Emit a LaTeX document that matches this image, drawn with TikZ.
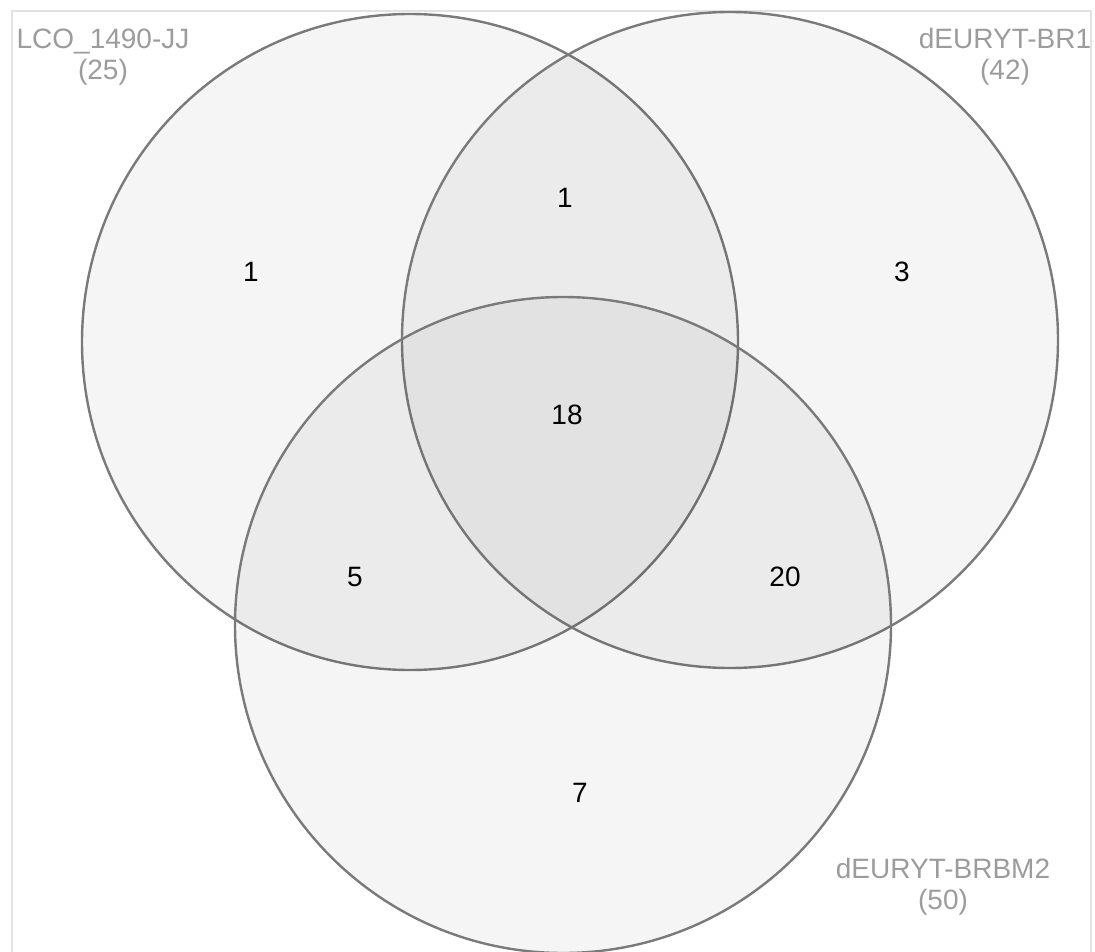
\documentclass[tikz,border=0pt]{standalone}
\usepackage{fontspec}
\setmainfont{Liberation Sans}
\usepackage{tikz}
\usetikzlibrary{positioning}
\definecolor{setedge}{HTML}{7A7A7A}
\definecolor{setfill}{HTML}{000000}
\definecolor{labelgray}{HTML}{9C9C9C}
\definecolor{framegray}{HTML}{E2E2E2}

\begin{document}
\begin{tikzpicture}[
  x=1pt, y=-1pt,
  setcircle/.style={circle, draw=setedge, line width=2.4pt, fill=setfill,
                    fill opacity=0.04, minimum size=656pt, inner sep=0pt},
  countlabel/.style={font=\fontsize{28}{32}\selectfont, text=black, inner sep=0pt},
  setlabel/.style={font=\fontsize{28}{31}\selectfont, text=labelgray, align=center,
                   inner sep=0pt}
]
\useasboundingbox (0,0) rectangle (1095,952);

% frame
\draw[framegray, line width=1.5pt] (12,960) -- (12,11) -- (1091,11) -- (1091,960);

% sets
\node[setcircle] (lco)   at (410,342) {};
\node[setcircle] (br1)   at (730,340) {};
\node[setcircle] (brbm2) at (563,625) {};

% set names
\node[setlabel] (lconame)   at (103,57)  {LCO\_1490-JJ\\(25)};
\node[setlabel] (br1name)   at (1005,57) {dEURYT-BR1\\(42)};
\node[setlabel] (brbm2name) at (943,887) {dEURYT-BRBM2\\(50)};

% counts
\node[countlabel] (onlylco)   at (251,272) {1};
\node[countlabel] (lcobr)     at (565,198) {1};
\node[countlabel] (onlybr1)   at (902,272) {3};
\node[countlabel] (allthree)  at (567,415) {18};
\node[countlabel] (lcobrbm)   at (355,577) {5};
\node[countlabel] (brbrbm)    at (785,577) {20};
\node[countlabel] (onlybrbm2) at (580,793) {7};
\end{tikzpicture}
\end{document}
